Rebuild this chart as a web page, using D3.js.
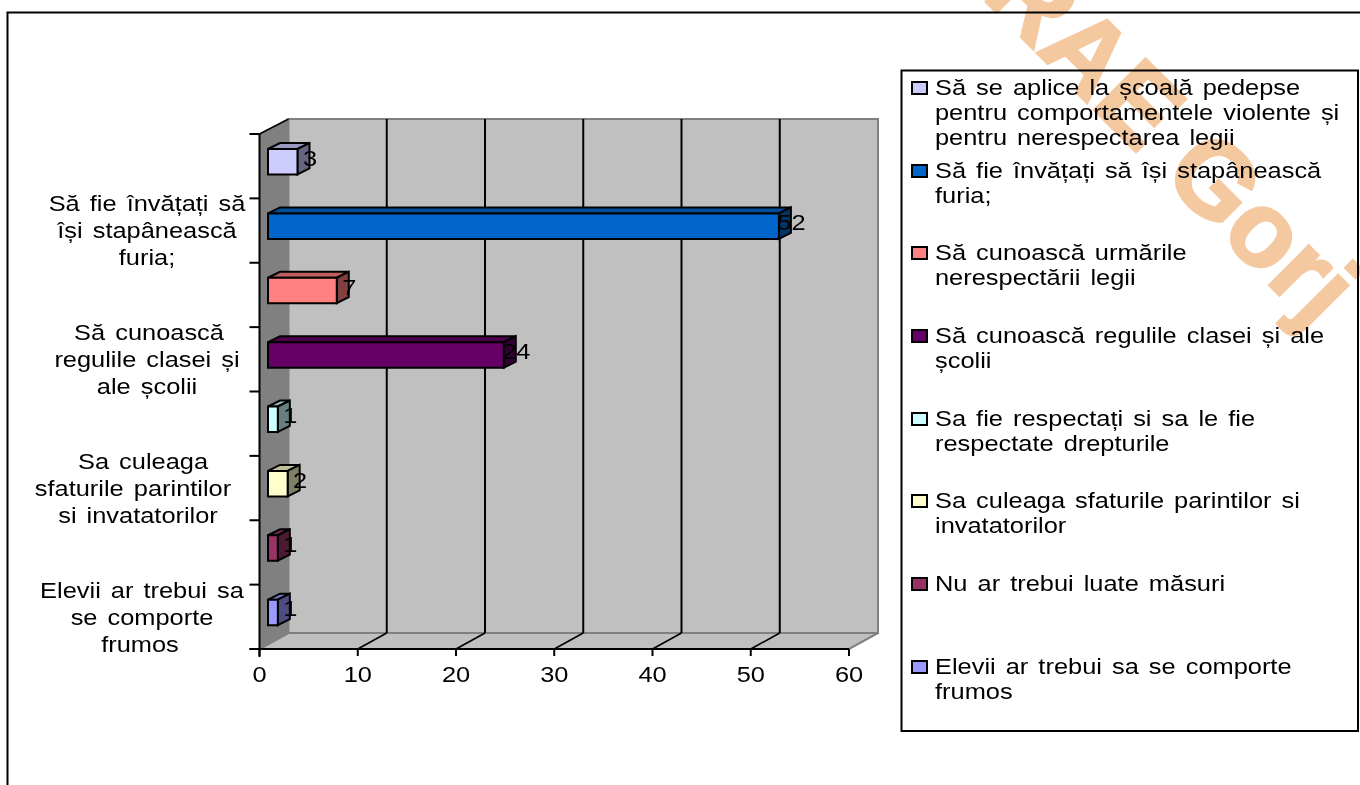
<!DOCTYPE html>
<html><head><meta charset="utf-8">
<script src="https://cdn.jsdelivr.net/npm/d3@7"></script>
<style>
html,body{margin:0;padding:0;background:#fff;overflow:hidden}
text{font-family:"Liberation Sans",Arial,sans-serif;fill:#000}
</style></head><body><svg id="c" width="1360" height="785"></svg>
<script>
const values=[3,52,7,24,1,2,1,1];
const colors=["#ccccff","#0066cc","#ff8080","#660066","#ccffff","#ffffcc","#993366","#9999ff"];
const sideColors=["#666680","#003366","#804040","#330033","#668080","#808066","#4d1a33","#4d4d80"];
const topColors=["#9999bf","#004d99","#bf6060","#4d004d","#99bfbf","#bfbf99","#732650","#7373bf"];
const xTicks=[0,10,20,30,40,50,60];
const legendLines=[["Să se aplice la școală pedepse","pentru comportamentele violente și","pentru nerespectarea legii"],["Să fie învățați să își stapânească","furia;"],["Să cunoască urmările","nerespectării legii"],["Să cunoască regulile clasei și ale","școlii"],["Sa fie respectați si sa le fie","respectate drepturile"],["Sa culeaga sfaturile parintilor si","invatatorilor"],["Nu ar trebui luate măsuri"],["Elevii ar trebui sa se comporte","frumos"]];
const axisLabels=[["Să fie învățați să","își stapânească","furia;"],["Să cunoască","regulile clasei și","ale școlii"],["Sa culeaga","sfaturile parintilor","si invatatorilor"],["Elevii ar trebui sa","se comporte","frumos"]];
const axisSlots=[1,3,5,7];

const legendTop=[88,171,253,336,419,501,584,667];
const axisCx=[[147,147,147],[149,147,147],[143,133,138],[142,142,140]];
const svg=d3.select("#c");
const x=d3.scaleLinear().domain([0,60]).range([259.5,849]);
const y=d3.scaleBand().domain(d3.range(8)).range([134,649]);
const DX=29,DY=-16,bdx=12,bdy=-6,barInset=8.5,barH=25.5;
const FS=22,SX=1.155,WS=2.6;
const label=(px,py,s,anchor)=>svg.append("text")
  .attr("transform",`translate(${px},${py}) scale(${SX},1)`)
  .attr("text-anchor",anchor||"middle").attr("font-size",FS).attr("word-spacing",WS).text(s);
svg.append("path").attr("d","M7.5,785V12.5H1360").attr("fill","none").attr("stroke","#000").attr("stroke-width",2);
const poly=(pts,fill,stroke,sw)=>svg.append("polygon").attr("points",pts.map(p=>p.join(",")).join(" ")).attr("fill",fill).attr("stroke",stroke).attr("stroke-width",sw);
const x0=x(0),x6=x(60),yT=y.range()[0],yB=y.range()[1];
poly([[x0+DX,yT+DY+1],[x6+DX,yT+DY+1],[x6+DX,yB+DY],[x0+DX,yB+DY]],"#c0c0c0","#808080",2);
poly([[x0,yT],[x0+DX,yT+DY+1],[x0+DX,yB+DY],[x0,yB]],"#808080","#808080",1);
poly([[x0,yB],[x0+DX,yB+DY],[x6+DX,yB+DY],[x6,yB]],"#c0c0c0","#808080",2);
xTicks.slice(1,-1).forEach(v=>{
 svg.append("line").attr("x1",x(v)+DX).attr("x2",x(v)+DX).attr("y1",yT+DY+1).attr("y2",yB+DY).attr("stroke","#000").attr("stroke-width",2);
 svg.append("line").attr("x1",x(v)).attr("x2",x(v)+DX).attr("y1",yB).attr("y2",yB+DY).attr("stroke","#000").attr("stroke-width",1.6);
});
svg.append("line").attr("x1",x0).attr("x2",x0).attr("y1",yT).attr("y2",yB+8).attr("stroke","#000").attr("stroke-width",2);
svg.append("line").attr("x1",x0).attr("x2",x0+DX).attr("y1",yT).attr("y2",yT+DY+1).attr("stroke","#000").attr("stroke-width",1.5);
svg.append("line").attr("x1",x0-10).attr("x2",x6).attr("y1",yB).attr("y2",yB).attr("stroke","#000").attr("stroke-width",2);
d3.range(9).forEach(i=>{const t=yT+i*y.step();svg.append("line").attr("x1",x0-10).attr("x2",x0).attr("y1",t).attr("y2",t).attr("stroke","#000").attr("stroke-width",2);});
xTicks.forEach(v=>{
 svg.append("line").attr("x1",x(v)).attr("x2",x(v)).attr("y1",yB).attr("y2",yB+7).attr("stroke","#000").attr("stroke-width",2);
 label(x(v),682,v);
});
values.forEach((v,i)=>{
 const bx=x0+barInset,ex=bx+(x(v)-x0),by=y(i)+15,h=barH;
 poly([[bx,by],[bx+bdx,by+bdy],[ex+bdx,by+bdy],[ex,by]],topColors[i],"#000",2);
 poly([[ex,by],[ex+bdx,by+bdy],[ex+bdx,by+h+bdy],[ex,by+h]],sideColors[i],"#000",2);
 poly([[bx,by],[ex,by],[ex,by+h],[bx,by+h]],colors[i],"#000",2);
 label(ex+12.5,by+h/2+4,v);
});
axisLabels.forEach((ls,k)=>{
 const s=axisSlots[k];
 ls.forEach((l,j)=>label(axisCx[k][j],y(s)+y.step()-24.5+(j-1)*27,l));
});
svg.append("rect").attr("x",901.5).attr("y",70.5).attr("width",456.5).attr("height",660.5).attr("fill","#fff").attr("stroke","#000").attr("stroke-width",2);
legendLines.forEach((ls,i)=>{
 const t=legendTop[i];
 svg.append("rect").attr("x",912).attr("y",t-6).attr("width",15).attr("height",12).attr("fill",colors[i]).attr("stroke","#000").attr("stroke-width",2);
 ls.forEach((l,j)=>label(935,t+7+j*25.2,l,"start"));
});
svg.append("text").attr("transform","translate(885,-99) rotate(45)").attr("font-size",106).attr("font-weight","bold").attr("stroke","#f5c9a0").attr("stroke-width",2.5).attr("style","fill:#f5c9a0;mix-blend-mode:multiply;font-family:'Liberation Sans'").text("CJRAE Gorj");
</script></body></html>
